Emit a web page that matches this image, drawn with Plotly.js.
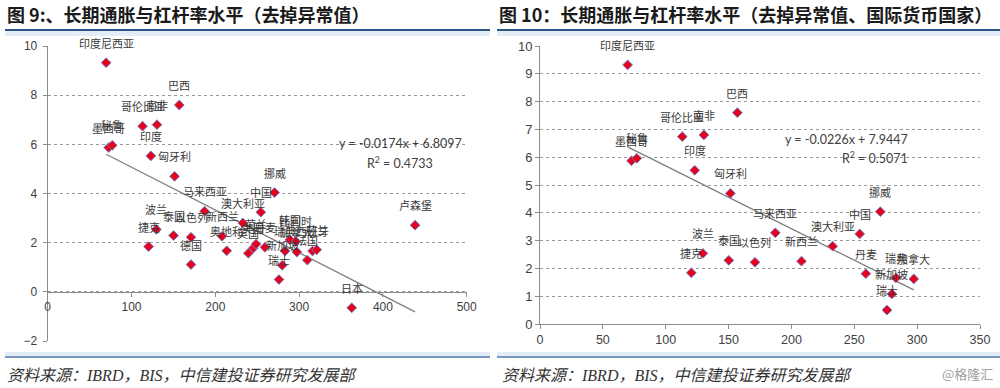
<!DOCTYPE html>
<html>
<head>
<meta charset="utf-8">
<script src="https://cdn.plot.ly/plotly-3.0.1.min.js"></script>
<style>
html,body{margin:0;padding:0;background:#fff;}
#chart{width:1000px;height:388px;}
</style>
</head>
<body>
<div id="chart"></div>
<script>
// ---- Data: left panel (all countries, outliers removed) ----
const leftCountries = ["印度尼西亚","巴西","哥伦比亚","南非","墨西哥","秘鲁","印度","匈牙利","马来西亚","挪威","中国","澳大利亚","波兰","捷克","泰国","以色列","德国","新西兰","奥地利","英国","美国","荷兰","丹麦","瑞典","加拿大","韩国","比利时","新加坡","瑞士","法国","西班牙","芬兰","卢森堡","日本"];
const leftLeverage = [69.7,157,113.2,130.4,72.8,77.0,123.1,151.4,187.2,270.7,254.3,232.8,129.6,120.4,150.2,171.0,171.0,208.0,213.6,239.4,245.4,248.6,259.2,283.2,297.3,289.0,296.0,279.9,276.0,309.8,316.0,321.0,438.4,362.8];
const leftInflation = [9.32,7.60,6.74,6.80,5.87,5.96,5.53,4.70,3.28,4.04,3.24,2.80,2.54,1.84,2.29,2.22,1.11,2.26,1.67,1.57,1.78,1.94,1.81,1.66,1.62,2.12,2.05,1.08,0.50,1.29,1.66,1.71,2.71,-0.65];
const leftSlope = -0.0174, leftIntercept = 6.8097, leftR2 = "0.4733";

// ---- Data: right panel (international currency countries) ----
const rightCountries = ["印度尼西亚","巴西","哥伦比亚","南非","墨西哥","秘鲁","印度","匈牙利","马来西亚","挪威","中国","澳大利亚","波兰","捷克","泰国","以色列","新西兰","丹麦","瑞典","加拿大","新加坡","瑞士"];
const rightLeverage = [69.7,157,113.2,130.4,72.8,77.0,123.1,151.4,187.2,270.7,254.3,232.8,129.6,120.4,150.2,171.0,208.0,259.2,283.2,297.3,279.9,276.0];
const rightInflation = [9.32,7.60,6.74,6.80,5.87,5.96,5.53,4.70,3.28,4.04,3.24,2.80,2.54,1.84,2.29,2.22,2.26,1.81,1.66,1.62,1.08,0.50];
const rightSlope = -0.0226, rightIntercept = 7.9447, rightR2 = "0.5071";

// ---- Tick values ----
const leftXTicks = [0,100,200,300,400,500];
const leftYTicks = [-2,0,2,4,6,8,10];
const rightXTicks = [0,50,100,150,200,250,300,350];
const rightYTicks = [0,1,2,3,4,5,6,7,8,9,10];

function fmtEq(m,b){ return "y = " + m.toFixed(4) + "x + " + b.toFixed(4); }

const W = 1000, H = 388;
const px = v => v / W;
const py = v => 1 - v / H;

const CJK = "Noto Sans CJK SC, Noto Sans, sans-serif";
const NUM = "Liberation Sans, Arial, sans-serif";

function trend(xs, m, b, xa, ya){
  const x0 = Math.min(...xs), x1 = Math.max(...xs);
  return {x:[x0,x1], y:[m*x0+b, m*x1+b], mode:"lines", xaxis:xa, yaxis:ya,
          line:{color:"#7f7f7f", width:1.3}, hoverinfo:"skip"};
}
const marker = {symbol:"diamond", size:7.5, color:"#e8001c", line:{color:"#6f7fc0", width:1}};

const traces = [
  trend(leftLeverage, leftSlope, leftIntercept, "x", "y"),
  {x:leftLeverage, y:leftInflation, mode:"markers", xaxis:"x", yaxis:"y", marker:marker, text:leftCountries},
  trend(rightLeverage, rightSlope, rightIntercept, "x2", "y2"),
  {x:rightLeverage, y:rightInflation, mode:"markers", xaxis:"x2", yaxis:"y2", marker:marker, text:rightCountries}
];

const labelFont = {family:CJK, size:11, color:"#3a3a3a"};
const annotations = [];
leftCountries.forEach((c,i)=>annotations.push({x:leftLeverage[i], y:leftInflation[i], xref:"x", yref:"y", text:c, showarrow:false, yshift:20, font:labelFont}));
rightCountries.forEach((c,i)=>annotations.push({x:rightLeverage[i], y:rightInflation[i], xref:"x2", yref:"y2", text:c, showarrow:false, yshift:20, font:labelFont}));

const eqFont = {family:"Lato, Liberation Sans, sans-serif", size:12.5, color:"#404040"};
annotations.push(
  {xref:"paper", yref:"paper", x:px(400), y:py(143.5), text:fmtEq(leftSlope,leftIntercept), showarrow:false, font:eqFont, bgcolor:"rgba(255,255,255,0)"},
  {xref:"paper", yref:"paper", x:px(400), y:py(162.5), text:"R<sup>2</sup> = " + leftR2, showarrow:false, font:eqFont},
  {xref:"paper", yref:"paper", x:px(910), y:py(139.5), text:fmtEq(rightSlope,rightIntercept), showarrow:false, font:eqFont},
  {xref:"paper", yref:"paper", x:px(910), y:py(157), text:"R<sup>2</sup> = " + rightR2, showarrow:false, font:eqFont},
  {xref:"paper", yref:"paper", x:px(5), y:py(14.5), xanchor:"left", yanchor:"middle", text:"<b>图 9:、长期通胀与杠杆率水平（去掉异常值）</b>", showarrow:false, font:{family:CJK, size:18, color:"#1a1a1a"}},
  {xref:"paper", yref:"paper", x:px(497), y:py(14.5), xanchor:"left", yanchor:"middle", text:"<b>图 10：长期通胀与杠杆率水平（去掉异常值、国际货币国家）</b>", showarrow:false, font:{family:CJK, size:18, color:"#1a1a1a"}},
  {xref:"paper", yref:"paper", x:px(5), y:py(375), xanchor:"left", yanchor:"middle", text:"<i>资料来源：IBRD，BIS，中信建投证券研究发展部</i>", showarrow:false, font:{family:"Liberation Serif, "+CJK, size:16, color:"#333333"}},
  {xref:"paper", yref:"paper", x:px(500), y:py(375), xanchor:"left", yanchor:"middle", text:"<i>资料来源：IBRD，BIS，中信建投证券研究发展部</i>", showarrow:false, font:{family:"Liberation Serif, "+CJK, size:16, color:"#333333"}},
  {xref:"paper", yref:"paper", x:px(995), y:py(373), xanchor:"right", yanchor:"middle", text:"@格隆汇", showarrow:false, font:{family:CJK, size:13, color:"#a0a0a0"}}
);

const shapes = [
  {type:"rect", xref:"paper", yref:"paper", x0:px(5), x1:px(490), y0:py(36), y1:py(31), fillcolor:"#e3edf7", line:{width:0}},
  {type:"rect", xref:"paper", yref:"paper", x0:px(497), x1:px(1000), y0:py(36), y1:py(31), fillcolor:"#e3edf7", line:{width:0}},
  {type:"line", xref:"paper", yref:"paper", x0:px(5), x1:px(490), y0:py(30), y1:py(30), line:{color:"#2a5783", width:2}},
  {type:"line", xref:"paper", yref:"paper", x0:px(497), x1:px(1000), y0:py(30), y1:py(30), line:{color:"#2a5783", width:2}},
  {type:"rect", xref:"paper", yref:"paper", x0:px(5), x1:px(490), y0:py(356), y1:py(352), fillcolor:"#e3edf7", line:{width:0}},
  {type:"rect", xref:"paper", yref:"paper", x0:px(497), x1:px(1000), y0:py(356), y1:py(352), fillcolor:"#e3edf7", line:{width:0}},
  {type:"line", xref:"paper", yref:"paper", x0:px(5), x1:px(490), y0:py(357), y1:py(357), line:{color:"#4a78a6", width:1.5}},
  {type:"line", xref:"paper", yref:"paper", x0:px(497), x1:px(1000), y0:py(357), y1:py(357), line:{color:"#4a78a6", width:1.5}}
];

const axisCommon = {showline:true, linecolor:"#8c8c8c", linewidth:1, ticks:"outside", ticklen:4, tickcolor:"#8c8c8c", zeroline:false, fixedrange:true};
const gridY = {showgrid:true, gridcolor:"#9a9a9a", griddash:"dot", gridwidth:1};

const layout = {
  width:W, height:H, margin:{l:0,r:0,t:0,b:0}, paper_bgcolor:"#ffffff", plot_bgcolor:"rgba(0,0,0,0)",
  showlegend:false, hovermode:false,
  xaxis: Object.assign({}, axisCommon, {domain:[px(47.7), px(466.7)], range:[0,500], tickvals:leftXTicks, anchor:"free", position:py(291.7), showgrid:false, tickfont:{family:NUM, size:12, color:"#404040"}}),
  yaxis: Object.assign({}, axisCommon, gridY, {domain:[py(341), py(46)], range:[-2,10], tickvals:leftYTicks, anchor:"x", ticklabelstandoff:3, tickfont:{family:NUM, size:12, color:"#404040"}}),
  xaxis2: Object.assign({}, axisCommon, {domain:[px(540), px(980)], range:[0,350], tickvals:rightXTicks, anchor:"y2", showgrid:false, tickfont:{family:NUM, size:12.5, color:"#404040"}}),
  yaxis2: Object.assign({}, axisCommon, gridY, {domain:[py(324), py(46)], range:[0,10], tickvals:rightYTicks, anchor:"x2", tickfont:{family:NUM, size:13, color:"#404040"}}),
  annotations:annotations, shapes:shapes
};

Plotly.newPlot("chart", traces, layout, {staticPlot:true, displayModeBar:false});
</script>
</body>
</html>
